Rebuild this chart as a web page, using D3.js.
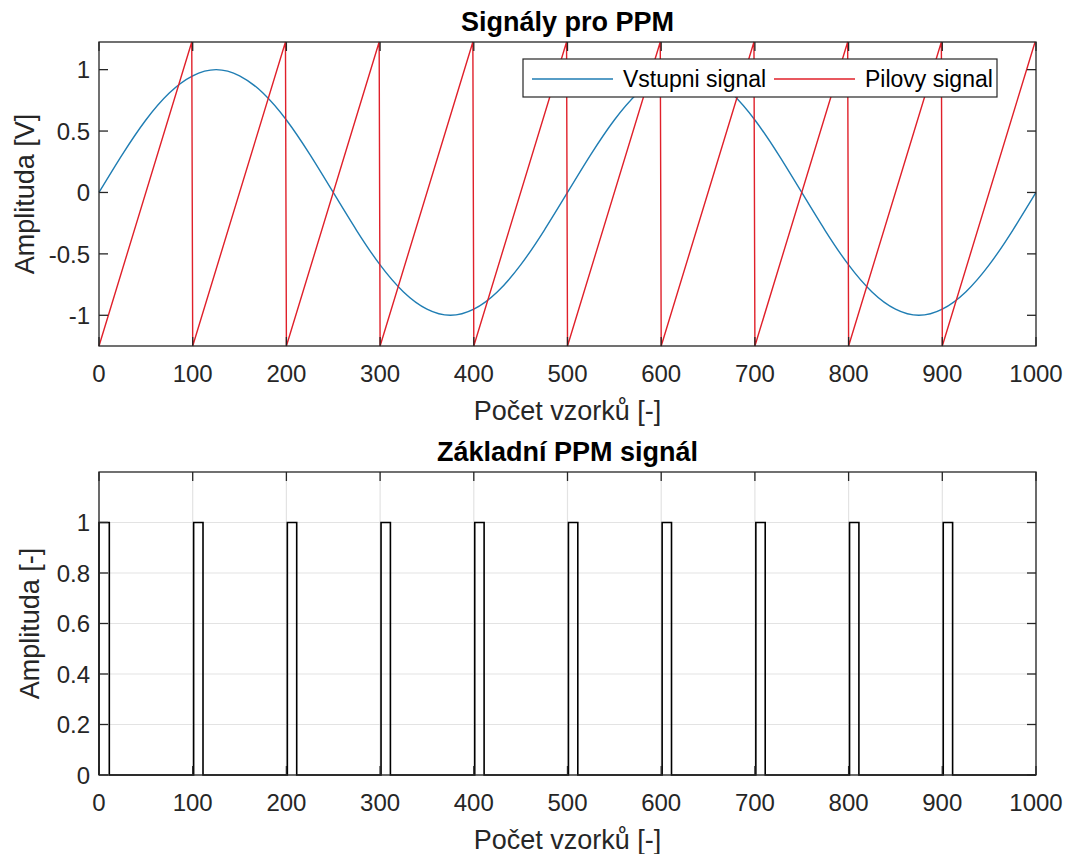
<!DOCTYPE html>
<html>
<head>
<meta charset="utf-8">
<script src="https://cdn.jsdelivr.net/npm/d3@7"></script>
<style>
  body { margin: 0; background: #fff; }
  text { font-family: Helvetica, Arial, "Liberation Sans", sans-serif; fill: #262626; }
</style>
</head>
<body>
<script>
var w = 1074;
var h = 854;

//x ticks shared by both plots
var xTicks = [0, 100, 200, 300, 400, 500, 600, 700, 800, 900, 1000];
var yTicksTop = [-1, -0.5, 0, 0.5, 1];
var yTicksBottom = [0, 0.2, 0.4, 0.6, 0.8, 1];

//input signal, read every 25 samples
var sineX = [0, 25, 50, 75, 100, 125, 150, 175, 200, 225, 250, 275, 300, 325, 350, 375, 400, 425, 450, 475,
             500, 525, 550, 575, 600, 625, 650, 675, 700, 725, 750, 775, 800, 825, 850, 875, 900, 925, 950, 975, 1000];
var sineY = [0, 0.31, 0.59, 0.81, 0.95, 1, 0.95, 0.81, 0.59, 0.31, 0, -0.31, -0.59, -0.81, -0.95, -1, -0.95, -0.81, -0.59, -0.31,
             0, 0.31, 0.59, 0.81, 0.95, 1, 0.95, 0.81, 0.59, 0.31, 0, -0.31, -0.59, -0.81, -0.95, -1, -0.95, -0.81, -0.59, -0.31, 0];

//sawtooth corner points
var sawX = [0, 99, 100, 199, 200, 299, 300, 399, 400, 499, 500, 599, 600, 699, 700, 799, 800, 899, 900, 999];
var sawY = [-1.25, 1.225, -1.25, 1.225, -1.25, 1.225, -1.25, 1.225, -1.25, 1.225,
            -1.25, 1.225, -1.25, 1.225, -1.25, 1.225, -1.25, 1.225, -1.25, 1.225];

//PPM pulses (start and end sample)
var pulseStart = [0, 101, 201, 301, 401, 501, 601, 701, 801, 901];
var pulseEnd = [11, 111, 211, 311, 411, 511, 611, 711, 811, 911];

var legendNames = ["Vstupni signal", "Pilovy signal"];
var blue = "#1f7db3";
var red = "#e0202a";
var ink = "#262626";

var svg = d3.select("body").append("svg")
    .attr("width", w)
    .attr("height", h);

svg.append("rect").attr("width", w).attr("height", h).attr("fill", "#fff");

var left = 99, right = 1036;

var x = d3.scaleLinear().domain([0, 1000]).range([left, right]);
var yTop = d3.scaleLinear().domain([-1.25, 1.225]).range([346, 42]);
var yBot = d3.scaleLinear().domain([0, 1.2]).range([775, 472]);

//draws the frame, ticks, tick labels and titles of one subplot
function drawAxes(g, y, yTicks, grid, title, ylabel, ylabelX) {
    var y0 = y.range()[0], y1 = y.range()[1];

    if (grid) {
        g.selectAll(".gx").data(xTicks).enter().append("line")
            .attr("x1", function(d) { return x(d); })
            .attr("x2", function(d) { return x(d); })
            .attr("y1", y0).attr("y2", y1)
            .attr("stroke", "#e3e3e3").attr("stroke-width", 1.2);
        g.selectAll(".gy").data(yTicks).enter().append("line")
            .attr("x1", left).attr("x2", right)
            .attr("y1", function(d) { return y(d); })
            .attr("y2", function(d) { return y(d); })
            .attr("stroke", "#e3e3e3").attr("stroke-width", 1.2);
    }

    return function() {
        //inward ticks on all sides
        xTicks.forEach(function(d) {
            g.append("line").attr("x1", x(d)).attr("x2", x(d)).attr("y1", y0).attr("y2", y0 - 9)
                .attr("stroke", ink).attr("stroke-width", 1.3);
            g.append("line").attr("x1", x(d)).attr("x2", x(d)).attr("y1", y1).attr("y2", y1 + 9)
                .attr("stroke", ink).attr("stroke-width", 1.3);
        });
        yTicks.forEach(function(d) {
            g.append("line").attr("x1", left).attr("x2", left + 9).attr("y1", y(d)).attr("y2", y(d))
                .attr("stroke", ink).attr("stroke-width", 1.3);
            g.append("line").attr("x1", right).attr("x2", right - 9).attr("y1", y(d)).attr("y2", y(d))
                .attr("stroke", ink).attr("stroke-width", 1.3);
        });

        g.append("rect")
            .attr("x", left).attr("y", y1)
            .attr("width", right - left).attr("height", y0 - y1)
            .attr("fill", "none").attr("stroke", ink).attr("stroke-width", 1.3);

        g.selectAll(".xl").data(xTicks).enter().append("text")
            .attr("x", function(d) { return x(d); })
            .attr("y", y0 + 36)
            .attr("text-anchor", "middle")
            .attr("font-size", 24)
            .text(function(d) { return d; });

        g.selectAll(".yl").data(yTicks).enter().append("text")
            .attr("x", left - 9)
            .attr("y", function(d) { return y(d); })
            .attr("dy", "0.36em")
            .attr("text-anchor", "end")
            .attr("font-size", 24)
            .text(function(d) { return String(d); });

        g.append("text")
            .attr("x", (left + right) / 2)
            .attr("y", y0 + 74)
            .attr("text-anchor", "middle")
            .attr("font-size", 27)
            .text("Počet vzorků [-]");

        g.append("text")
            .attr("transform", "translate(" + ylabelX + "," + ((y0 + y1) / 2) + ") rotate(-90)")
            .attr("text-anchor", "middle")
            .attr("font-size", 27)
            .text(ylabel);

        g.append("text")
            .attr("x", (left + right) / 2)
            .attr("y", y1 - 11)
            .attr("text-anchor", "middle")
            .attr("font-size", 27)
            .attr("font-weight", "bold")
            .style("fill", "#000")
            .text(title);
    };
}

//top subplot
var topG = svg.append("g");
var finishTop = drawAxes(topG, yTop, yTicksTop, false, "Signály pro PPM", "Amplituda [V]", 34);

var sinePts = sineX.map(function(d, i) { return [d, sineY[i]]; });
var sawPts = sawX.map(function(d, i) { return [d, sawY[i]]; });

topG.append("path")
    .datum(sinePts)
    .attr("d", d3.line().x(function(d) { return x(d[0]); }).y(function(d) { return yTop(d[1]); }).curve(d3.curveNatural))
    .attr("fill", "none").attr("stroke", blue).attr("stroke-width", 1.4);

topG.append("path")
    .datum(sawPts)
    .attr("d", d3.line().x(function(d) { return x(d[0]); }).y(function(d) { return yTop(d[1]); }))
    .attr("fill", "none").attr("stroke", red).attr("stroke-width", 1.4);

finishTop();

//legend
var legend = topG.append("g");
legend.append("rect")
    .attr("x", 523).attr("y", 59).attr("width", 474).attr("height", 38)
    .attr("fill", "#fff").attr("stroke", ink).attr("stroke-width", 1.2);
var legendX = [532, 774];
legendNames.forEach(function(name, i) {
    legend.append("line")
        .attr("x1", legendX[i]).attr("x2", legendX[i] + 81)
        .attr("y1", 79).attr("y2", 79)
        .attr("stroke", i === 0 ? blue : red).attr("stroke-width", 1.4);
    legend.append("text")
        .attr("x", legendX[i] + 91).attr("y", 79).attr("dy", "0.36em")
        .attr("font-size", 23)
        .style("fill", "#000")
        .text(name);
});

//bottom subplot
var botG = svg.append("g");
var finishBot = drawAxes(botG, yBot, yTicksBottom, true, "Základní PPM signál", "Amplituda [-]", 39);

var ppmPts = [];
pulseStart.forEach(function(s, i) {
    ppmPts.push([s, 0], [s, 1], [pulseEnd[i], 1], [pulseEnd[i], 0]);
});
ppmPts.push([1000, 0]);

botG.append("path")
    .datum(ppmPts)
    .attr("d", d3.line().x(function(d) { return x(d[0]); }).y(function(d) { return yBot(d[1]); }))
    .attr("fill", "none").attr("stroke", "#000").attr("stroke-width", 1.6);

finishBot();
</script>
</body>
</html>
